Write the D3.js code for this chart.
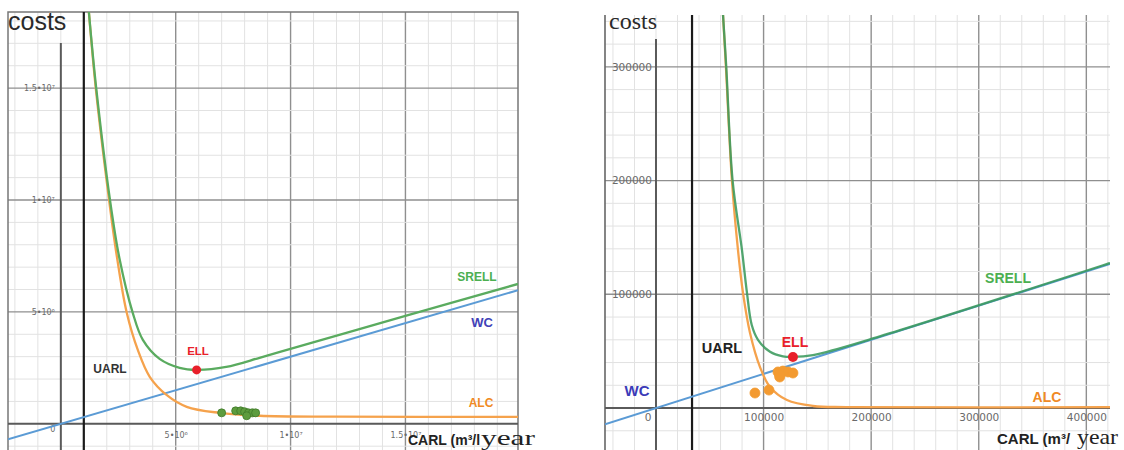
<!DOCTYPE html>
<html>
<head>
<meta charset="utf-8">
<script src="https://cdn.jsdelivr.net/npm/d3@7"></script>
<style>
    body { margin: 0; background: #fff; }
    svg { display: block; }
</style>
</head>
<body>
<script>
//values (x = CARL in m3/year, y = costs)

//left figure
var leftXTicks = [5e6, 1e7, 1.5e7];
var leftXTickLabels = ["5•10⁶", "1•10⁷", "1.5•10⁷"];
var leftYTicks = [5e6, 1e7, 1.5e7];
var leftYTickLabels = ["5•10⁶", "1•10⁷", "1.5•10⁷"];
var leftUARL = 1.0e6;
var leftALC = [[1.22e6, 18.4e6], [1.52e6, 15.0e6], [2.1e6, 10.0e6], [2.45e6, 7.4e6], [2.87e6, 4.96e6],
    [3.35e6, 3.3e6], [3.87e6, 2.1e6], [4.6e6, 1.29e6], [5.48e6, 0.76e6], [6.9e6, 0.49e6],
    [8.65e6, 0.36e6], [12e6, 0.32e6], [19.9e6, 0.31e6]];
var leftSRELL = [[1.22e6, 18.4e6], [1.54e6, 15.0e6], [2.14e6, 10.0e6], [2.55e6, 7.4e6], [3.13e6, 4.96e6],
    [3.57e6, 3.75e6], [4.3e6, 2.9e6], [5.17e6, 2.5e6], [5.91e6, 2.41e6], [7.2e6, 2.54e6],
    [8.65e6, 2.95e6], [9.5e6, 3.2e6], [15e6, 4.82e6], [19.9e6, 6.25e6]];
var leftWC = [[-2.3e6, -0.69e6], [19.9e6, 5.97e6]];
var leftELL = [5.91e6, 2.41e6];
var leftPoints = [[7.0e6, 0.49e6], [7.61e6, 0.58e6], [7.83e6, 0.58e6], [8.0e6, 0.54e6],
    [8.17e6, 0.49e6], [8.35e6, 0.49e6], [8.09e6, 0.36e6], [8.48e6, 0.49e6]];

//right figure
var rightXTicks = [100000, 200000, 300000, 400000];
var rightXTickLabels = ["100000", "200000", "300000", "400000"];
var rightYTicks = [100000, 200000, 300000];
var rightYTickLabels = ["100000", "200000", "300000"];
var rightUARL = 33500;
var rightALC = [[62300, 345600], [65000, 300000], [70600, 200000], [76200, 139000], [80900, 101000],
    [87400, 66000], [96700, 36000], [106000, 18500], [121700, 7000], [146000, 1800],
    [177000, 800], [422000, 800]];
var rightSRELL = [[62300, 345600], [65300, 300000], [71200, 200000], [79900, 139000], [84600, 101000],
    [89000, 73000], [94800, 60000], [106000, 49500], [118000, 45500], [127000, 45000],
    [146000, 46600], [208000, 63000], [422000, 127500]];
var rightWC = [[-47400, -14200], [422000, 126600]];
var rightELL = [127300, 44900];
var rightPoints = [[92000, 13200], [105000, 15800], [115000, 27300], [113400, 31700],
    [118000, 32500], [122700, 31700], [127300, 30800], [115000, 29000]];

(function () {

    var svg = d3.select("body")
        .append("svg")
        .attr("width", 1124)
        .attr("height", 450);

    drawPanel({
        id: "l",
        left: 8, right: 518, top: 12, bottom: 450,
        xDomain: [-2.3e6, 19.9e6], yDomain: [-1.17e6, 18.4e6],
        minor: 1e6, major: 5e6, yAxisTop: 43, border: "box",
        xTicks: leftXTicks, xTickLabels: leftXTickLabels,
        yTicks: leftYTicks, yTickLabels: leftYTickLabels,
        tickFont: 8, xPad: 9, yPad: 6, zero: [-8, 6],
        uarl: leftUARL, alc: leftALC, srell: leftSRELL, wc: leftWC,
        ell: leftELL, points: leftPoints, pointFill: "#5d9c3e", pointStroke: "#3f7a2a", pointR: 4, ellR: 4.5,
        green: "#5aab5f", greenOpacity: 1,
        costs: { x: 8, y: 30, size: 25, family: "'Liberation Sans', Arial, sans-serif" },
        carl: { x: 408, y: 445, size: 14, text: "CARL (m³/l", yearX: 481, yearW: 54 },
        labels: [
            { t: "UARL", x: 110, y: 369, s: 12, c: "#333" },
            { t: "ELL", x: 198, y: 351, s: 11.5, c: "#e8202a" },
            { t: "SRELL", x: 477, y: 277, s: 12, c: "#4caf50" },
            { t: "WC", x: 482, y: 322, s: 13, c: "#4141b8" },
            { t: "ALC", x: 481, y: 403, s: 12, c: "#f08a24" }
        ]
    });

    drawPanel({
        id: "r",
        left: 605, right: 1110, top: 15, bottom: 450,
        xDomain: [-47400, 422000], yDomain: [-36900, 345600],
        minor: 20000, major: 100000, yAxisTop: 39, border: "left",
        xTicks: rightXTicks, xTickLabels: rightXTickLabels,
        yTicks: rightYTicks, yTickLabels: rightYTickLabels,
        tickFont: 10.5, xPad: 6, yPad: 4, zero: [-8, 9],
        uarl: rightUARL, alc: rightALC, srell: rightSRELL, wc: rightWC,
        ell: rightELL, points: rightPoints, pointFill: "#f39a30", pointStroke: "#f39a30", pointR: 5, ellR: 5,
        green: "#3a9a5c", greenOpacity: 0.88,
        costs: { x: 609, y: 29, size: 24, family: "'Liberation Serif', 'DejaVu Serif', serif" },
        carl: { x: 997, y: 444, size: 15, text: "CARL (m³/", yearX: 1077, yearW: 41 },
        labels: [
            { t: "UARL", x: 722, y: 348, s: 14.5, c: "#222" },
            { t: "ELL", x: 795, y: 342, s: 14, c: "#e8202a" },
            { t: "WC", x: 637, y: 390, s: 15, c: "#3b3bb8" },
            { t: "SRELL", x: 1008, y: 278, s: 14, c: "#4caf50" },
            { t: "ALC", x: 1047, y: 397, s: 14, c: "#f08a24" }
        ]
    });

    function drawPanel(p) {
        var x = d3.scaleLinear().domain(p.xDomain).range([p.left, p.right]);
        var y = d3.scaleLinear().domain(p.yDomain).range([p.bottom, p.top]);
        var g = svg.append("g");

        //clip so curves stop at the frame
        svg.append("clipPath").attr("id", "clip-" + p.id)
            .append("rect")
            .attr("x", p.left).attr("y", p.top)
            .attr("width", p.right - p.left).attr("height", p.bottom - p.top);

        //grid lines every minor step, darker every major step
        var xs = stepValues(p.xDomain, p.minor),
            ys = stepValues(p.yDomain, p.minor);

        g.selectAll(".vgrid")
            .data(xs)
            .enter()
            .append("line")
            .attr("x1", function (d) { return x(d); })
            .attr("x2", function (d) { return x(d); })
            .attr("y1", p.top)
            .attr("y2", p.bottom)
            .attr("stroke", function (d) { return isMajor(d) ? "#8f8f8f" : "#e2e2e2"; })
            .attr("stroke-width", function (d) { return isMajor(d) ? 1.4 : 1; });

        g.selectAll(".hgrid")
            .data(ys)
            .enter()
            .append("line")
            .attr("y1", function (d) { return y(d); })
            .attr("y2", function (d) { return y(d); })
            .attr("x1", p.left)
            .attr("x2", p.right)
            .attr("stroke", function (d) { return isMajor(d) ? "#8f8f8f" : "#e2e2e2"; })
            .attr("stroke-width", function (d) { return isMajor(d) ? 1.4 : 1; });

        function isMajor(d) {
            return Math.abs(d / p.major - Math.round(d / p.major)) < 1e-6 && Math.round(d / p.minor) !== 0;
        }

        //frame
        if (p.border === "box") {
            g.append("path")
                .attr("d", "M" + p.left + "," + p.bottom + "V" + p.top + "H" + p.right + "V" + p.bottom)
                .attr("fill", "none")
                .attr("stroke", "#777")
                .attr("stroke-width", 1.5);
        } else {
            g.append("line")
                .attr("x1", p.left).attr("x2", p.left)
                .attr("y1", p.top).attr("y2", p.bottom)
                .attr("stroke", "#666")
                .attr("stroke-width", 1.6);
        }

        //axes
        g.append("line")
            .attr("x1", p.left).attr("x2", p.right)
            .attr("y1", y(0)).attr("y2", y(0))
            .attr("stroke", "#5a5a5a")
            .attr("stroke-width", 2);
        g.append("line")
            .attr("x1", x(0)).attr("x2", x(0))
            .attr("y1", p.yAxisTop).attr("y2", p.bottom)
            .attr("stroke", "#5a5a5a")
            .attr("stroke-width", 2);

        //UARL vertical line
        g.append("line")
            .attr("x1", x(p.uarl)).attr("x2", x(p.uarl))
            .attr("y1", p.top).attr("y2", p.bottom)
            .attr("stroke", "#1a1a1a")
            .attr("stroke-width", 2.2);

        //tick labels
        var xAxis = d3.axisBottom(x)
            .tickValues(p.xTicks)
            .tickFormat(function (d, i) { return p.xTickLabels[i]; })
            .tickSize(0)
            .tickPadding(p.xPad);
        var yAxis = d3.axisLeft(y)
            .tickValues(p.yTicks)
            .tickFormat(function (d, i) { return p.yTickLabels[i]; })
            .tickSize(0)
            .tickPadding(p.yPad);

        [g.append("g").attr("transform", "translate(0," + y(0) + ")").call(xAxis),
         g.append("g").attr("transform", "translate(" + x(0) + ",0)").call(yAxis)]
            .forEach(function (a) {
                a.select(".domain").remove();
                a.attr("font-size", p.tickFont)
                    .attr("font-family", "'DejaVu Sans', sans-serif");
                a.selectAll("text").attr("fill", "#6a6a6a");
            });

        g.append("text")
            .attr("x", x(0) + p.zero[0])
            .attr("y", y(0) + p.zero[1])
            .attr("text-anchor", "middle")
            .attr("dominant-baseline", "central")
            .attr("font-size", p.tickFont)
            .attr("font-family", "'DejaVu Sans', sans-serif")
            .attr("fill", "#6a6a6a")
            .text("0");

        //cost curves
        var line = d3.line()
            .x(function (d) { return x(d[0]); })
            .y(function (d) { return y(d[1]); })
            .curve(d3.curveCatmullRom.alpha(0.5));

        var curves = g.append("g").attr("clip-path", "url(#clip-" + p.id + ")");

        curves.append("path")
            .datum(p.wc)
            .attr("d", line)
            .attr("fill", "none")
            .attr("stroke", "#5b9bd5")
            .attr("stroke-width", 2);

        curves.append("path")
            .datum(p.alc)
            .attr("d", line)
            .attr("fill", "none")
            .attr("stroke", "#f5a24c")
            .attr("stroke-width", 2.3);

        curves.append("path")
            .datum(p.srell)
            .attr("d", line)
            .attr("fill", "none")
            .attr("stroke", p.green)
            .attr("stroke-opacity", p.greenOpacity)
            .attr("stroke-width", 2.3);

        //observed utilities
        g.selectAll(".pts")
            .data(p.points)
            .enter()
            .append("circle")
            .attr("cx", function (d) { return x(d[0]); })
            .attr("cy", function (d) { return y(d[1]); })
            .attr("r", p.pointR)
            .attr("fill", p.pointFill)
            .attr("stroke", p.pointStroke)
            .attr("stroke-width", 0.8);

        //ELL point
        g.append("circle")
            .attr("cx", x(p.ell[0]))
            .attr("cy", y(p.ell[1]))
            .attr("r", p.ellR)
            .attr("fill", "#e8202a");

        //curve labels
        g.selectAll(".lbl")
            .data(p.labels)
            .enter()
            .append("text")
            .attr("x", function (d) { return d.x; })
            .attr("y", function (d) { return d.y; })
            .attr("text-anchor", "middle")
            .attr("dominant-baseline", "central")
            .attr("font-family", "'Liberation Sans', Arial, sans-serif")
            .attr("font-weight", "bold")
            .attr("font-size", function (d) { return d.s; })
            .attr("fill", function (d) { return d.c; })
            .text(function (d) { return d.t; });

        //axis titles
        g.append("text")
            .attr("x", p.costs.x)
            .attr("y", p.costs.y)
            .attr("font-family", p.costs.family)
            .attr("font-size", p.costs.size)
            .attr("fill", "#2a2a2a")
            .text("costs");

        g.append("text")
            .attr("x", p.carl.x)
            .attr("y", p.carl.y)
            .attr("font-family", "'Liberation Sans', Arial, sans-serif")
            .attr("font-weight", "bold")
            .attr("font-size", p.carl.size)
            .attr("fill", "#222")
            .text(p.carl.text);

        g.append("text")
            .attr("x", p.carl.yearX)
            .attr("y", p.carl.y)
            .attr("font-family", "'Liberation Serif', 'DejaVu Serif', serif")
            .attr("font-size", 21)
            .attr("textLength", p.carl.yearW)
            .attr("lengthAdjust", "spacingAndGlyphs")
            .attr("fill", "#222")
            .text("year");
    }

    function stepValues(domain, step) {
        var out = [];
        for (var i = Math.ceil(domain[0] / step); i <= Math.floor(domain[1] / step); i++) {
            out.push(i * step);
        }
        return out;
    }

})();
</script>
</body>
</html>
